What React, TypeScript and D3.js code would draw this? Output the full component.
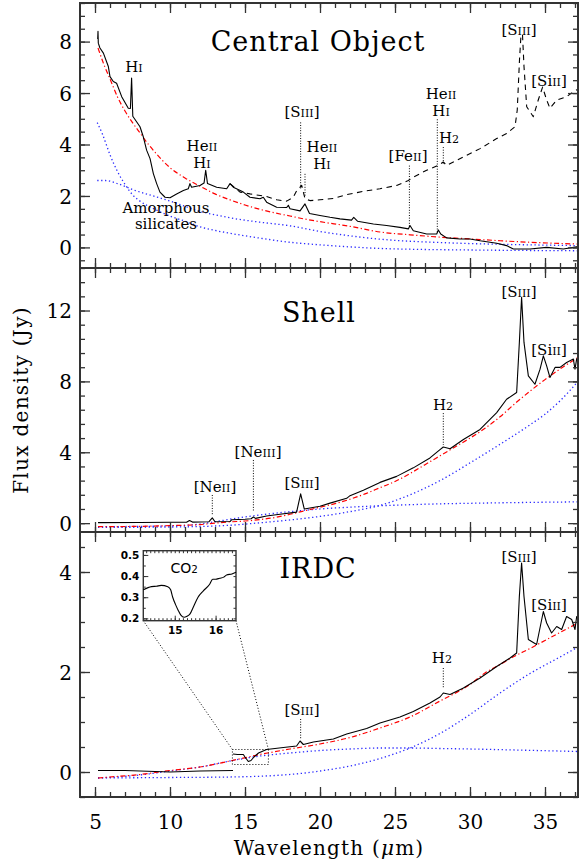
import React, { useRef, useEffect } from "react";
import * as d3 from "d3";

const width = 579;
const height = 867;

// ---- Central object (top panel) ----
const coreSpec: [number, number][] = [[5.18,8.1],[5.2,8.4],[5.22,7.94],[5.33,7.75],[5.56,7.55],[5.89,7.03],[6.0,6.64],[6.22,6.45],[6.44,6.38],[6.78,5.86],[7.22,5.41],[7.36,5.4],[7.44,6.58],[7.52,5.1],[8.0,4.69],[8.22,4.3],[8.44,3.78],[8.67,3.45],[8.89,2.87],[9.11,2.48],[9.33,2.15],[9.67,1.95],[10.0,1.93],[10.44,2.08],[10.89,2.21],[11.22,2.28],[11.33,2.48],[11.44,2.34],[12.0,2.41],[12.27,2.5],[12.38,3.0],[12.5,2.48],[13.11,2.34],[13.78,2.28],[14.0,2.48],[14.22,2.34],[14.89,2.15],[15.33,1.95],[16.0,1.89],[16.22,1.95],[16.44,1.76],[17.11,1.56],[17.78,1.55],[17.89,1.64],[18.0,1.5],[18.67,1.42],[19.0,1.69],[19.3,1.32],[20.0,1.24],[20.67,1.17],[21.33,1.11],[22.1,1.06],[22.25,1.17],[22.5,1.02],[23.56,0.91],[24.44,0.85],[25.33,0.78],[25.89,0.72],[26.0,0.85],[26.22,0.65],[27.11,0.52],[27.78,0.52],[27.89,0.68],[28.05,0.52],[28.44,0.37],[29.33,0.33],[30.0,0.33],[30.67,0.26],[31.78,0.16],[32.44,0.07],[32.89,-0.06],[34.0,-0.06],[35.11,0.0],[36.22,-0.06],[37.2,0.03]];
const coreSpecLarge: [number, number][] = [[14.0,2.48],[14.67,2.15],[15.33,2.08],[16.44,1.98],[17.11,1.85],[17.78,1.8],[18.22,1.95],[18.44,2.2],[18.78,2.41],[19.0,1.89],[19.33,1.82],[20.0,1.85],[20.89,1.9],[21.78,2.05],[22.89,2.18],[24.0,2.28],[25.11,2.41],[25.89,2.6],[26.22,2.73],[27.11,3.0],[27.89,3.19],[28.22,3.32],[28.44,3.19],[29.56,3.52],[30.67,3.84],[31.78,4.23],[32.44,4.43],[33.0,4.69],[33.15,5.34],[33.3,7.29],[33.4,8.27],[33.5,8.27],[33.6,7.03],[33.78,5.47],[34.22,5.08],[34.55,5.73],[34.84,6.23],[35.11,5.73],[35.33,5.41],[35.78,5.73],[36.44,5.86],[36.89,6.05],[37.2,6.15]];
const coreModel: [number, number][] = [[5.2,7.75],[5.6,7.1],[6,6.55],[6.5,5.85],[7,5.3],[7.5,4.85],[8,4.45],[8.5,4.05],[9,3.7],[10,3.1],[11,2.7],[12,2.38],[13,2.08],[14,1.85],[15,1.65],[16,1.48],[17,1.34],[18,1.22],[19,1.1],[20,1.0],[22,0.82],[24,0.6],[26,0.49],[28,0.4],[30,0.33],[32,0.26],[34,0.2],[37.2,0.13]];
const coreHot: [number, number][] = [[5.15,4.85],[5.5,4.4],[6,3.6],[6.5,2.95],[7,2.45],[7.5,2.05],[8,1.8],[9,1.48],[10,1.22],[11,1.02],[12,0.8],[13,0.66],[14,0.55],[16,0.36],[18,0.2],[20,0.1],[22,0.02],[24,-0.04],[26,-0.07],[30,-0.1],[37.2,-0.13]];
const coreSil: [number, number][] = [[5.15,2.6],[5.7,2.6],[6.5,2.48],[7.7,2.21],[9,1.98],[9.9,1.82],[11,1.6],[12,1.4],[13,1.27],[14,1.15],[16,0.98],[18,0.84],[20,0.62],[22,0.45],[24,0.32],[26,0.24],[28,0.19],[30,0.15],[33,0.11],[37.2,0.07]];

// ---- Shell (middle panel) ----
const shellSpec: [number, number][] = [[5.2,0.03],[8,0.04],[10,0.05],[11.1,0.05],[11.3,0.15],[11.5,0.06],[12.6,0.08],[12.82,0.3],[13.0,0.08],[14.0,0.09],[14.1,0.19],[15.0,0.22],[15.4,0.25],[15.56,0.35],[15.7,0.27],[16.44,0.4],[17.33,0.5],[18.44,0.62],[18.71,1.65],[18.95,0.8],[20.0,0.95],[20.67,1.13],[21.78,1.4],[22.0,1.55],[22.89,1.85],[24.0,2.3],[25.11,2.64],[26.22,3.12],[27.33,3.68],[28.0,4.15],[28.22,4.3],[28.67,4.2],[29.56,4.72],[30.67,5.29],[31.78,6.24],[32.44,6.99],[33.11,7.37],[33.29,10.2],[33.44,12.75],[33.6,10.2],[33.89,8.31],[34.33,7.84],[34.67,8.69],[34.89,9.44],[35.11,8.88],[35.33,8.22],[35.67,8.79],[36.0,8.79],[36.44,9.07],[36.89,9.26],[37.0,8.69],[37.11,9.26],[37.2,9.35]];
const shellModel: [number, number][] = [[5.2,-0.2],[8,-0.18],[10,-0.14],[12,-0.08],[13,0.0],[14,0.07],[15,0.12],[16,0.2],[17,0.32],[18,0.5],[19,0.7],[20,0.9],[21,1.1],[22,1.35],[23,1.65],[24,2.0],[25,2.35],[26,2.8],[27,3.3],[28,3.8],[29,4.3],[30,4.8],[31,5.35],[32,6.0],[33,6.75],[34,7.45],[35,8.1],[36,8.7],[37.2,9.35]];
const shellWarm: [number, number][] = [[5.2,-0.2],[10,-0.16],[12,-0.05],[13,0.08],[14,0.22],[15,0.35],[16,0.46],[17,0.56],[18,0.65],[19,0.73],[20,0.8],[22,0.9],[24,0.98],[26,1.04],[28,1.09],[30,1.12],[33,1.16],[37.2,1.2]];
const shellCold: [number, number][] = [[5.2,-0.24],[10,-0.22],[14,-0.12],[16,0.02],[18,0.18],[20,0.38],[22,0.65],[24,1.0],[26,1.6],[28,2.4],[30,3.4],[32,4.45],[34,5.55],[35,6.15],[36,6.9],[37.2,8.0]];

// ---- IRDC (bottom panel) ----
const irdcShort: [number, number][] = [[5.2,0.03],[7,0.03],[9,0.01],[10,0.0],[11,0.01],[12,0.02],[14.2,0.03]];
const irdcLong: [number, number][] = [[14.2,0.36],[14.5,0.35],[14.89,0.35],[15.0,0.3],[15.22,0.21],[15.4,0.23],[15.6,0.3],[15.9,0.38],[16.44,0.45],[17.56,0.49],[18.44,0.52],[18.67,0.62],[18.89,0.55],[19.56,0.6],[20.89,0.66],[21.78,0.76],[23.11,0.87],[24.0,0.98],[25.33,1.1],[26.22,1.21],[27.33,1.38],[28.0,1.5],[28.22,1.58],[28.67,1.55],[29.56,1.68],[30.67,1.88],[31.78,2.11],[32.67,2.28],[33.11,2.38],[33.29,3.51],[33.44,4.18],[33.6,3.51],[33.89,2.65],[34.44,2.55],[34.89,3.21],[35.11,2.98],[35.44,2.78],[35.78,2.91],[36.11,2.85],[36.44,3.11],[36.78,3.05],[37.0,2.85],[37.11,3.11],[37.2,3.08]];
const irdcModel: [number, number][] = [[5.2,-0.12],[6,-0.1],[8,-0.05],[10,0.03],[12,0.1],[14,0.22],[16,0.35],[18,0.46],[20,0.56],[22,0.69],[24,0.88],[26,1.1],[28,1.42],[30,1.75],[31,1.98],[32,2.15],[33,2.32],[34,2.47],[35,2.63],[36,2.79],[37.2,2.98]];
const irdcWarm: [number, number][] = [[5.2,-0.12],[8,-0.06],[10,0.02],[12,0.1],[14,0.22],[16,0.32],[18,0.38],[20,0.43],[22,0.46],[24,0.48],[26,0.48],[28,0.47],[30,0.46],[33,0.44],[37.2,0.41]];
const irdcCold: [number, number][] = [[5.2,-0.12],[10,-0.11],[14,-0.1],[17,-0.07],[19,-0.02],[20,0.02],[22,0.12],[24,0.27],[26,0.48],[28,0.77],[30,1.15],[32,1.58],[34,1.97],[36,2.3],[37.2,2.5]];

// CO2 ice inset
const co2Spec: [number, number][] = [[14.23,0.335],[14.43,0.35],[14.55,0.352],[14.67,0.356],[14.83,0.35],[14.9,0.335],[14.95,0.3],[15.02,0.265],[15.08,0.24],[15.15,0.215],[15.23,0.205],[15.3,0.21],[15.37,0.22],[15.47,0.26],[15.57,0.3],[15.7,0.33],[15.85,0.36],[15.93,0.385],[16.0,0.385],[16.1,0.39],[16.2,0.395],[16.27,0.405],[16.4,0.41],[16.5,0.418]];
const co2XTicks = [15, 16];
const co2YTicks = [0.2, 0.3, 0.4, 0.5];
const zoomBox = { x0: 14.16, x1: 16.56, y0: 0.15, y1: 0.45 };

const xTicks = [5, 10, 15, 20, 25, 30, 35];
const coreYTicks = [0, 2, 4, 6, 8];
const shellYTicks = [0, 4, 8, 12];
const irdcYTicks = [0, 2, 4];

// line labels: text ({..} = smaller), wavelength, flux
const coreLabels: [string, number, number][] = [
  ["H{I}", 7.6, 6.81], ["He{II}", 12.13, 3.73], ["H{I}", 12.13, 3.08],
  ["[S{III}]", 18.8, 5.05], ["He{II}", 20.13, 3.69], ["H{I}", 20.13, 3.04],
  ["[Fe{II}]", 25.87, 3.34], ["He{II}", 28.07, 5.76], ["H{I}", 28.07, 5.11],
  ["H{2}", 28.6, 4.06], ["[S{III}]", 33.27, 8.25], ["[Si{II}]", 35.27, 6.26],
  ["Amorphous", 9.73, 1.33], ["silicates", 9.73, 0.7],
];
const coreLeaders: [number, number, number][] = [[18.71, 4.86, 2.28], [19.0, 2.86, 1.97], [25.96, 3.18, 0.8], [27.82, 4.98, 0.6], [28.22, 3.9, 3.26]];
const shellLabels: [string, number, number][] = [
  ["[Ne{II}]", 13.0, 1.76], ["[Ne{III}]", 15.87, 3.73], ["[S{III}]", 18.8, 1.98],
  ["H{2}", 28.2, 6.38], ["[S{III}]", 33.27, 12.76], ["[Si{II}]", 35.27, 9.49],
];
const shellLeaders: [number, number, number][] = [[12.82, 1.59, 0.46], [15.56, 3.56, 0.68], [28.22, 6.21, 4.41]];
const irdcLabels: [string, number, number][] = [
  ["[S{III}]", 18.8, 1.14], ["H{2}", 28.13, 2.18], ["[S{III}]", 33.27, 4.2], ["[Si{II}]", 35.27, 3.24],
];
const irdcLeaders: [number, number, number][] = [[18.71, 1.06, 0.66], [28.22, 2.08, 1.68]];

const SERIF = "DejaVu Serif";

function App() {
  const svgRef = useRef<SVGSVGElement>(null);

  useEffect(() => {
    document.body.style.margin = "0";
    const svg = d3.select(svgRef.current);
    svg.selectAll("*").remove();

    const marginLeft = 80;
    const marginRight = 1;
    const x = d3.scaleLinear().domain([4, 37.2]).range([marginLeft, width - marginRight]);

    const panels = [
      { top: 3, bottom: 268, dom: [-0.8, 9.5], major: coreYTicks, minorStep: 0.5, title: "Central Object", tx: 19.87, ty: 7.63,
        series: [[coreSpecLarge, "dash"], [coreSil, "blue"], [coreHot, "blue"], [coreModel, "red"], [coreSpec, "solid"]],
        labels: coreLabels, leaders: coreLeaders },
      { top: 268, bottom: 532, dom: [-0.5, 14.4], major: shellYTicks, minorStep: 0.8, title: "Shell", tx: 19.93, ty: 11.35,
        series: [[shellWarm, "blue"], [shellCold, "blue"], [shellModel, "red"], [shellSpec, "solid"]],
        labels: shellLabels, leaders: shellLeaders },
      { top: 532, bottom: 797, dom: [-0.5, 4.8], major: irdcYTicks, minorStep: 0.5, title: "IRDC", tx: 19.87, ty: 3.88,
        series: [[irdcWarm, "blue"], [irdcCold, "blue"], [irdcModel, "red"], [irdcShort, "solid"], [irdcLong, "solid"]],
        labels: irdcLabels, leaders: irdcLeaders },
    ];

    function rich(t: any, str: string, size: number) {
      str.split(/(\{[^}]*\})/).filter((s) => s).forEach((s) => {
        if (s.startsWith("{")) t.append("tspan").attr("font-size", size * 0.74).text(s.slice(1, -1));
        else t.append("tspan").text(s);
      });
    }

    const styles: any = {
      solid: { stroke: "#000", dash: null, w: 1.1 },
      dash: { stroke: "#000", dash: "5.5,4.5", w: 1.1 },
      red: { stroke: "#ff0000", dash: "5,2.5,1.2,2.5", w: 1.2 },
      blue: { stroke: "#2a2aff", dash: "1.3,2.6", w: 1.3 },
    };

    panels.forEach((p, pi) => {
      const y = d3.scaleLinear().domain(p.dom).range([p.bottom, p.top]);
      const g = svg.append("g");
      const clipId = "clip" + pi;
      g.append("clipPath").attr("id", clipId).append("rect")
        .attr("x", x.range()[0]).attr("y", p.top).attr("width", x.range()[1] - x.range()[0]).attr("height", p.bottom - p.top);

      const line = d3.line<[number, number]>().x((d) => x(d[0])).y((d) => y(d[1]));
      const plot = g.append("g").attr("clip-path", `url(#${clipId})`);
      p.series.forEach(([data, st]: any) => {
        const s = styles[st];
        plot.append("path").datum(data)
          .attr("fill", "none").attr("stroke", s.stroke).attr("stroke-width", s.w)
          .attr("stroke-dasharray", s.dash).attr("stroke-linejoin", "round")
          .attr("d", line.curve(st === "red" || st === "blue" ? d3.curveMonotoneX : d3.curveLinear));
      });

      // dotted leader lines
      g.selectAll(".lead").data(p.leaders).join("line")
        .attr("x1", (d: any) => x(d[0])).attr("x2", (d: any) => x(d[0]))
        .attr("y1", (d: any) => y(d[1])).attr("y2", (d: any) => y(d[2]))
        .attr("stroke", "#000").attr("stroke-width", 1).attr("stroke-dasharray", "1,1.6");

      // labels
      p.labels.forEach(([txt, lx, ly]) => {
        const size = 15;
        const t = g.append("text").attr("x", x(lx)).attr("y", y(ly)).attr("text-anchor", "middle")
          .attr("font-family", SERIF).attr("font-size", size).attr("fill", "#000");
        rich(t, txt, size);
      });

      g.append("text").attr("x", x(p.tx)).attr("y", y(p.ty)).attr("text-anchor", "middle")
        .attr("font-family", SERIF).attr("font-size", 27).attr("letter-spacing", 1).text(p.title);

      // axes (ticks inward on all four sides)
      const xMinor = d3.range(5, 38);
      const yMinor = d3.range(Math.ceil(p.dom[0] / p.minorStep), Math.floor(p.dom[1] / p.minorStep) + 1).map((i) => +(i * p.minorStep).toFixed(3));
      const axes = g.append("g").attr("stroke-width", 1.3);
      const addAxis = (ax: any, tr: string) => {
        const a = axes.append("g").attr("transform", tr).call(ax);
        a.select(".domain").remove();
        a.selectAll("line").attr("stroke", "#333").attr("stroke-width", 1.3);
        return a;
      };
      const none = () => "";
      addAxis(d3.axisBottom(x).tickValues(xMinor).tickSize(-5).tickFormat(none), `translate(0,${p.bottom})`);
      addAxis(d3.axisBottom(x).tickValues(xTicks).tickSize(-10).tickFormat(none), `translate(0,${p.bottom})`);
      addAxis(d3.axisTop(x).tickValues(xMinor).tickSize(-5).tickFormat(none), `translate(0,${p.top})`);
      addAxis(d3.axisTop(x).tickValues(xTicks).tickSize(-10).tickFormat(none), `translate(0,${p.top})`);
      addAxis(d3.axisLeft(y).tickValues(yMinor).tickSize(-5).tickFormat(none), `translate(${x.range()[0]},0)`);
      addAxis(d3.axisRight(y).tickValues(yMinor).tickSize(-5).tickFormat(none), `translate(${x.range()[1]},0)`);
      addAxis(d3.axisRight(y).tickValues(p.major).tickSize(-10).tickFormat(none), `translate(${x.range()[1]},0)`);
      const left = addAxis(d3.axisLeft(y).tickValues(p.major).tickSize(-10).tickPadding(8).tickFormat(d3.format("d")), `translate(${x.range()[0]},0)`);
      left.selectAll("text").attr("font-family", SERIF).attr("font-size", 20).attr("fill", "#000").attr("dy", "0.36em");

      if (pi === 2) {
        const bx = addAxis(d3.axisBottom(x).tickValues(xTicks).tickSize(0).tickPadding(18).tickFormat(d3.format("d")), `translate(0,${p.bottom})`);
        bx.selectAll("text").attr("font-family", SERIF).attr("font-size", 20).attr("fill", "#000");

        // zoom box + connectors
        const dotted = { stroke: "#000", w: 1, dash: "1,2" };
        g.append("rect").attr("x", x(zoomBox.x0)).attr("y", y(zoomBox.y1))
          .attr("width", x(zoomBox.x1) - x(zoomBox.x0)).attr("height", y(zoomBox.y0) - y(zoomBox.y1))
          .attr("fill", "none").attr("stroke", dotted.stroke).attr("stroke-width", dotted.w).attr("stroke-dasharray", dotted.dash);

        // inset
        const ix = d3.scaleLinear().domain([14.23, 16.5]).range([143.3, 236]);
        const iy = d3.scaleLinear().domain([0.189, 0.52]).range([620.7, 550.7]);
        const ins = svg.append("g");
        ins.append("line").attr("x1", x(zoomBox.x0)).attr("y1", y(zoomBox.y1)).attr("x2", ix.range()[0]).attr("y2", iy.range()[0])
          .attr("stroke", "#000").attr("stroke-dasharray", dotted.dash);
        ins.append("line").attr("x1", x(zoomBox.x1)).attr("y1", y(zoomBox.y1)).attr("x2", ix.range()[1]).attr("y2", iy.range()[0])
          .attr("stroke", "#000").attr("stroke-dasharray", dotted.dash);
        ins.append("rect").attr("x", ix.range()[0]).attr("y", iy.range()[1])
          .attr("width", ix.range()[1] - ix.range()[0]).attr("height", iy.range()[0] - iy.range()[1])
          .attr("fill", "#fff").attr("stroke", "#333").attr("stroke-width", 1.4);
        ins.append("path").datum(co2Spec).attr("fill", "none").attr("stroke", "#000").attr("stroke-width", 1.1)
          .attr("d", d3.line<[number, number]>().x((d) => ix(d[0])).y((d) => iy(d[1])).curve(d3.curveMonotoneX));
        const iAxis = (ax: any, tr: string) => {
          const a = ins.append("g").attr("transform", tr).call(ax);
          a.select(".domain").remove();
          a.selectAll("line").attr("stroke", "#333");
          a.selectAll("text").attr("font-family", "DejaVu Sans").attr("font-weight", "bold").attr("font-size", 10.5).attr("fill", "#000");
          return a;
        };
        const ixMinor = d3.range(143, 165).map((i) => i / 10);
        const iyMinor = d3.range(4, 11).map((i) => i / 20);
        iAxis(d3.axisBottom(ix).tickValues(ixMinor).tickSize(-2.5).tickFormat(none), `translate(0,${iy.range()[0]})`);
        iAxis(d3.axisBottom(ix).tickValues(co2XTicks).tickSize(-5).tickPadding(6).tickFormat(d3.format("d")), `translate(0,${iy.range()[0]})`);
        iAxis(d3.axisTop(ix).tickValues(ixMinor).tickSize(-2.5).tickFormat(none), `translate(0,${iy.range()[1]})`);
        iAxis(d3.axisLeft(iy).tickValues(iyMinor).tickSize(-2.5).tickFormat(none), `translate(${ix.range()[0]},0)`);
        iAxis(d3.axisLeft(iy).tickValues(co2YTicks).tickSize(-5).tickPadding(4).tickFormat(d3.format(".1f")), `translate(${ix.range()[0]},0)`);
        iAxis(d3.axisRight(iy).tickValues(iyMinor).tickSize(-2.5).tickFormat(none), `translate(${ix.range()[1]},0)`);
        const co2 = ins.append("text").attr("x", ix(15.23)).attr("y", iy(0.415)).attr("text-anchor", "middle")
          .attr("font-family", "DejaVu Sans").attr("font-size", 14);
        rich(co2, "CO{2}", 14);
      }

      // frame
      g.append("rect").attr("x", x.range()[0]).attr("y", p.top)
        .attr("width", x.range()[1] - x.range()[0]).attr("height", p.bottom - p.top)
        .attr("fill", "none").attr("stroke", "#333").attr("stroke-width", 2);
    });

    // axis titles
    const xl = svg.append("text").attr("x", (x.range()[0] + x.range()[1]) / 2).attr("y", 855)
      .attr("text-anchor", "middle").attr("font-family", SERIF).attr("font-size", 20).attr("letter-spacing", 1.2);
    xl.append("tspan").text("Wavelength (");
    xl.append("tspan").attr("font-style", "italic").text("\u03bc");
    xl.append("tspan").text("m)");
    svg.append("text").attr("transform", "translate(28,400) rotate(-90)").attr("text-anchor", "middle")
      .attr("font-family", SERIF).attr("font-size", 20).attr("letter-spacing", 1.3).text("Flux density (Jy)");
  }, []);

  return <svg ref={svgRef} width={width} height={height} style={{ display: "block" }}></svg>;
}

export default App;
